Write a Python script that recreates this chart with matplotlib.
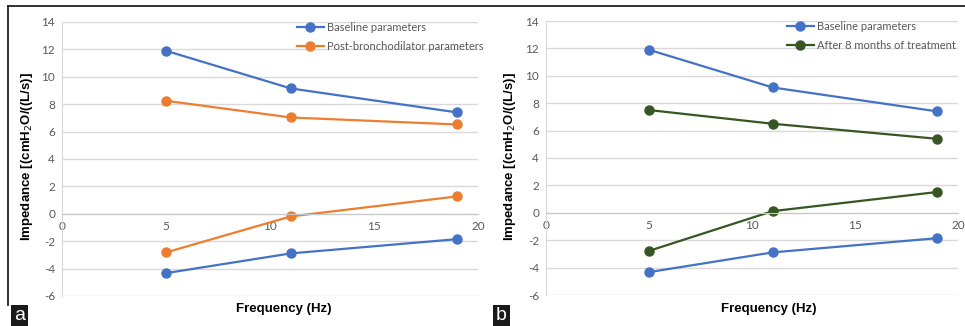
import matplotlib
matplotlib.use("Agg")
import matplotlib.pyplot as plt
from matplotlib.lines import Line2D
import numpy as np

plt.rcParams['axes.unicode_minus'] = False

# data
freq = [5, 11, 19]
base_upper = [11.9, 9.15, 7.4]
base_lower = [-4.33, -2.89, -1.85]
post_upper = [8.25, 7.03, 6.52]
post_lower = [-2.82, -0.19, 1.27]
treat_upper = [7.5, 6.5, 5.4]
treat_lower = [-2.78, 0.12, 1.52]

yticks = np.arange(-6, 15, 2)
xticks = [0, 5, 10, 15, 20]

BLUE = '#4472C4'
ORANGE = '#ED7D31'
GREEN = '#375623'
GRID = '#d9d9d9'
TXT = '#595959'

fig = plt.figure(figsize=(9.65, 3.26), dpi=100)
W, H = 965, 326

def px_axes(l, t, r, b):
    return fig.add_axes([l / W, 1 - b / H, (r - l) / W, (b - t) / H])

def draw_panel(ax, second_up, second_low, color, label, leg_x, ylab_x, xlab_x, tag, tag_x):
    ax.plot(freq, base_upper, color=BLUE, lw=1.6, marker='o', ms=6.5, label='Baseline parameters')
    ax.plot(freq, second_up, color=color, lw=1.6, marker='o', ms=6.5, label=label)
    ax.plot(freq, base_lower, color=BLUE, lw=1.6, marker='o', ms=6.5)
    ax.plot(freq, second_low, color=color, lw=1.6, marker='o', ms=6.5)
    ax.set_xlim(0, 20)
    ax.set_ylim(-6, 14)
    ax.set_yticks(yticks)
    ax.set_xticks(xticks)
    ax.yaxis.grid(True, color=GRID, lw=1)
    ax.set_axisbelow(True)
    for s in ['top', 'right']:
        ax.spines[s].set_visible(False)
    ax.spines['left'].set_color(GRID)
    ax.spines['bottom'].set_position(('data', 0))
    ax.spines['bottom'].set_color('#c8c8c8')
    ax.tick_params(length=0, labelsize=8.5, labelcolor=TXT, pad=5)
    for t in ax.get_xticklabels() + ax.get_yticklabels():
        t.set_fontfamily('Lato')
    leg = ax.legend(loc='upper left', bbox_to_anchor=(leg_x, 1.0), frameon=False,
                    prop={'family': 'Lato', 'size': 8}, handlelength=2.4,
                    handletextpad=0.3, labelspacing=0.7, borderpad=0, borderaxespad=0)
    for t in leg.get_texts():
        t.set_color(TXT)
    fig.text(ylab_x / W, 1 - 157 / H, 'Impedance [(cmH$_2$O/((L/s)]', rotation=90,
             ha='center', va='center', fontsize=9.5, fontweight='bold',
             family='Liberation Sans')
    fig.text(xlab_x / W, 1 - 309 / H, 'Frequency (Hz)', ha='center', va='center',
             fontsize=9.5, fontweight='bold', family='Liberation Sans')
    fig.text((tag_x + 11.5) / W, 1 - 316 / H, tag, ha='center', va='center', color='white',
             fontsize=14, family='Liberation Sans',
             bbox=dict(boxstyle='square,pad=0.15', fc='#1a1a1a', ec='none'))

ax1 = px_axes(62, 22, 478, 296)
ax2 = px_axes(546, 21, 958, 295)
draw_panel(ax1, post_upper, post_lower, ORANGE, 'Post-bronchodilator parameters',
           0.565, 27, 284, 'a', 8)
draw_panel(ax2, treat_upper, treat_lower, GREEN, 'After 8 months of treatment',
           0.585, 510, 769, 'b', 490)

# frame lines of the figure panels
fig.add_artist(Line2D([8 / W, 1], [1 - 6 / H, 1 - 6 / H], color='#222222', lw=1.3))
fig.add_artist(Line2D([8 / W, 8 / W], [1 - 6 / H, 1 - 305 / H], color='#222222', lw=1.3))

fig.savefig('out.png', dpi=100)
